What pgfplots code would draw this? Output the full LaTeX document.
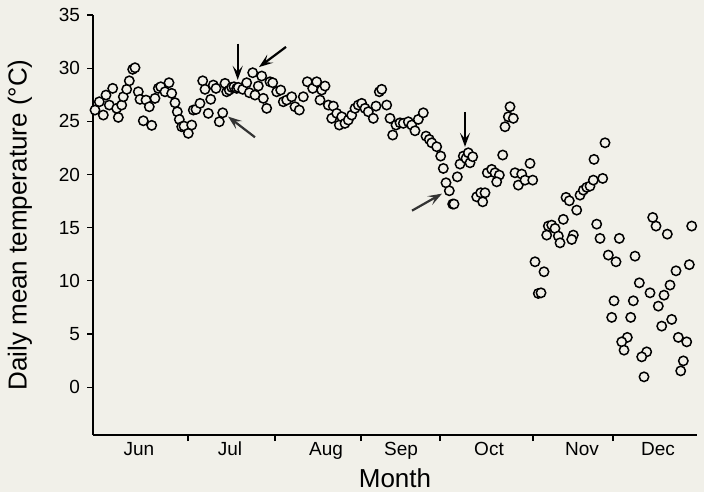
\documentclass[border=0pt]{standalone}
\usepackage{pgfplots}
\pgfplotsset{compat=1.18}
\usepackage{fontspec}
\setmainfont{Liberation Sans}
\usetikzlibrary{arrows.meta}
\definecolor{bg}{HTML}{F1F0E9}
\begin{document}
\begin{tikzpicture}
\fill[bg] (-46.5pt,-28.5pt) rectangle (305.5pt,217.5pt);
\begin{axis}[
  scale only axis, width=302pt, height=210pt,
  xmin=93, xmax=697, ymin=-4.5, ymax=35,
  axis x line*=bottom, axis y line*=left,
  axis line style={line width=0.75pt, -},
  xtick={188,275,361,440,533,613}, xticklabels={},
  extra x ticks={139,230,326,401,489,582,658},
  extra x tick labels={Jun,Jul,Aug,Sep,Oct,Nov,Dec},
  extra x tick style={major tick length=0pt},
  ytick={0,5,...,35},
  tick align=outside, major tick length=3pt,
  tick style={line width=0.6pt, black},
  tick label style={font=\fontsize{9.5}{11}\selectfont},
  /pgf/number format/assume math mode=true,
  xlabel={Month}, ylabel={Daily mean temperature (°C)},
  label style={font=\fontsize{13}{15}\selectfont},
  ylabel style={at={(axis description cs:-0.1209,0.5)}, anchor=center},
  xlabel style={at={(axis description cs:0.5,-0.1024)}, anchor=center},
  clip=false,
]
\addplot[only marks, mark=*, mark size=2.35pt, mark options={fill=bg, draw=black, line width=0.75pt}] coordinates {
(95,26.06) (99.3,26.84) (103.3,25.59) (106,27.47) (109.3,26.53) (112.7,28.10)
(116.7,26.22) (118.3,25.37) (121.7,26.53) (123.3,27.31) (126.7,28.01) (129.3,28.81)
(132.7,29.89) (135,30.04) (138.3,27.78) (140,27.07) (143.3,25.05) (146,27.0)
(149.3,26.37) (151.7,24.62) (155,27.16) (158.3,28.10) (160.7,28.25) (165,27.78)
(169,28.63) (171.7,27.63) (175,26.75) (177.3,25.90) (179.3,25.18) (181.7,24.49)
(184,24.55) (188.3,23.87) (191.7,24.65) (193.3,26.06) (196,26.12) (200,26.69)
(202.7,28.81) (205,28.01) (208.3,25.75) (210.7,27.07) (213.3,28.41) (216,28.10)
(219.3,24.96) (222.7,25.80) (225,28.57) (226.7,27.78) (229.3,27.94) (231.7,28.19)
(234,28.25) (236.7,28.10) (238.3,28.19) (242.7,28.01) (246.7,28.63) (249.3,27.69)
(252.7,29.57) (255,27.47) (258.3,28.32) (261.7,29.26) (263.3,27.16) (266.7,26.22)
(270,28.72) (272.7,28.63) (276.7,27.78) (280.7,27.94) (283.3,26.84) (286.7,27.0)
(291.7,27.31) (295,26.37) (299.3,26.06) (303.3,27.31) (307.3,28.72)
(312.7,28.10) (316.7,28.72) (320,27.0) (321.7,27.94) (325,28.32) (328.3,26.53)
(331.7,25.28) (333.3,26.43) (336.7,25.75) (339.3,24.65) (341.7,25.43) (345,24.81)
(348.3,25.12) (351.7,25.59) (355,26.22) (358.3,26.53) (361.7,26.69) (365,26.22)
(368.3,25.90) (373.3,25.28) (376,26.43) (379.3,27.78) (381.7,28.01) (386.7,26.53)
(390,25.28) (392.7,23.71) (396,24.65) (400,24.86) (403.3,24.81) (408.3,24.96)
(411.7,24.65) (415,24.11) (418.3,25.18) (423.3,25.80) (426,23.61) (429.3,23.30)
(431.7,22.98) (436.7,22.61) (440.7,21.73) (443.3,20.57) (446,19.22) (449.3,18.47)
(452.7,17.22) (454,17.22) (457.3,19.78) (460,20.98) (463.3,21.73) (466,21.51)
(468.3,22.04) (470,21.10) (472.7,21.67) (476.7,17.90) (480.7,18.28) (485,18.28)
(482.7,17.43) (487.3,20.16) (491.7,20.48) (495,20.16) (499.3,19.94) (496.7,19.31)
(502.7,21.83) (505,24.49) (508.3,25.43) (510,26.37) (513.3,25.28)
(515,20.16) (521.7,20.04) (530,21.04) (518.3,19.00) (525,19.47) (532.7,19.47)
(535,11.79) (544,10.85) (538.3,8.81) (541,8.87) (548.3,15.15) (551.7,15.24)
(555,14.93) (546.7,14.30) (558.3,14.21) (560,13.57) (563.3,15.78) (573.3,14.30)
(571.7,13.89) (566,17.85) (569.3,17.53) (576.7,16.65) (580,18.06) (583.3,18.53)
(586.7,18.79) (590,18.91) (593.3,19.47) (594,21.42) (602.7,19.63) (605,22.98)
(596.7,15.33) (600,13.99) (608.3,12.42) (616,11.79) (619.3,13.99) (635,12.32)
(614,8.12) (611.7,6.56) (633.3,8.12) (630.7,6.56) (639.3,9.81) (650,8.87)
(652.7,15.96) (656,15.15) (667.3,14.39) (658.3,7.62) (664,8.65) (670,9.60)
(676,10.94) (689.3,11.52) (661.7,5.74) (671.7,6.37) (678.3,4.68) (686.7,4.26)
(627.3,4.68) (621.7,4.26) (624,3.48) (646.7,3.32) (641.7,2.85) (644,0.97)
(683.3,2.47) (680.7,1.53) (691.7,15.15)
};
\tikzset{annarrow/.style={-{Stealth[length=7pt,width=5pt,inset=3pt]}, line width=1.1pt}}
\draw[annarrow] (axis cs:237.7,32.3) -- (axis cs:237.7,28.9);
\draw[annarrow] (axis cs:286,32.0) -- (axis cs:259,30.1);
\draw[annarrow, black!80] (axis cs:255,23.5) -- (axis cs:228,25.45);
\draw[annarrow] (axis cs:465,25.9) -- (axis cs:465,22.6);
\draw[annarrow, black!80] (axis cs:412,16.6) -- (axis cs:442,18.2);
\end{axis}
\pgfresetboundingbox
\path (-46.5pt,-28.5pt) rectangle (305.5pt,217.5pt);
\end{tikzpicture}
\end{document}
